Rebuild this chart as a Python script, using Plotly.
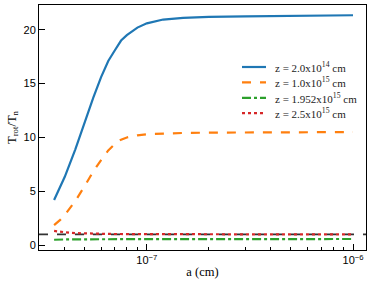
import plotly.graph_objects as go

a = [3.55e-8, 3.6e-8, 3.8e-8, 4e-8, 4.5e-8, 5e-8, 5.5e-8, 6e-8, 6.5e-8, 7e-8, 7.5e-8,
     8e-8, 9e-8, 1e-7, 1.2e-7, 1.5e-7, 2e-7, 3e-7, 5e-7, 7e-7, 1e-6]
t_z1 = [4.2, 4.45, 5.4, 6.35, 8.9, 11.5, 13.7, 15.6, 17.1, 18.1, 19.0,
        19.5, 20.2, 20.6, 20.95, 21.1, 21.2, 21.25, 21.3, 21.33, 21.35]
t_z2 = [1.86, 1.95, 2.35, 2.8, 4.1, 5.5, 6.85, 7.9, 8.8, 9.4, 9.8,
        10.0, 10.2, 10.3, 10.38, 10.42, 10.45, 10.47, 10.5, 10.5, 10.5]
t_z3 = [0.5, 0.51, 0.52, 0.53, 0.54, 0.55, 0.555, 0.56, 0.56, 0.56, 0.562,
        0.563, 0.564, 0.565, 0.566, 0.567, 0.568, 0.569, 0.57, 0.57, 0.57]
t_z4 = [1.32, 1.3, 1.25, 1.2, 1.12, 1.08, 1.06, 1.05, 1.04, 1.035, 1.03,
        1.03, 1.025, 1.02, 1.015, 1.012, 1.01, 1.005, 1.0, 1.0, 1.0]
labels = ["z = 2.0x10<sup>14</sup> cm", "z = 1.0x10<sup>15</sup> cm",
          "z = 1.952x10<sup>15</sup> cm", "z = 2.5x10<sup>15</sup> cm"]
colors = ["#1f77b4", "#ff7f0e", "#2ca02c", "#d62728"]
dashes = ["solid", "dash", "dashdot", "dot"]
series = [t_z1, t_z2, t_z3, t_z4]
ref_level = 1.0

major_x = [1e-7, 1e-6]
major_x_text = ["10<sup>−7</sup>", "10<sup>−6</sup>"]
minor_x = [4e-8, 5e-8, 6e-8, 7e-8, 8e-8, 9e-8, 2e-7, 3e-7, 4e-7, 5e-7, 6e-7, 7e-7, 8e-7, 9e-7]
y_ticks = [0, 5, 10, 15, 20]

W, H = 374, 288
ML, MR, MT, MB = 39, 8, 5, 38
PW, PH = W - ML - MR, H - MT - MB


def px_x(px):
    return (px - ML) / PW


def px_y(py):
    return 1 - (py - MT) / PH


fig = go.Figure()
for y, name, c, d in zip(series, labels, colors, dashes):
    fig.add_trace(go.Scatter(x=a, y=y, mode="lines", name=name, showlegend=False,
                             line=dict(color=c, width=2.2, dash=d)))

fig.add_shape(type="line", xref="paper", yref="y", x0=0, x1=1, y0=ref_level, y1=ref_level,
              line=dict(color="#333333", width=1.6, dash="dash"), layer="below")

# manual legend (compact row spacing as in the reference)
for i, (name, c, d) in enumerate(zip(labels, colors, dashes)):
    ry = 67 + 15.4 * i
    fig.add_shape(type="line", xref="paper", yref="paper",
                  x0=px_x(242), x1=px_x(266), y0=px_y(ry), y1=px_y(ry),
                  line=dict(color=c, width=2.2, dash=d))
    fig.add_annotation(xref="paper", yref="paper", x=px_x(273), y=px_y(ry),
                       xanchor="left", yanchor="middle", showarrow=False, text=name,
                       font=dict(family="Liberation Serif, serif", size=11, color="#222"))

fig.update_layout(
    width=W, height=H,
    margin=dict(l=ML, r=MR, t=MT, b=MB, autoexpand=False),
    paper_bgcolor="white", plot_bgcolor="white",
    font=dict(family="Liberation Sans, Arial, sans-serif", size=11, color="black"),
    showlegend=False,
    xaxis=dict(type="log", range=[-7.523, -5.937],
               tickmode="array", tickvals=major_x, ticktext=major_x_text,
               ticks="inside", ticklen=6, tickcolor="black", tickwidth=1,
               minor=dict(tickmode="array", tickvals=minor_x, ticks="inside",
                          ticklen=3.5, tickcolor="black", tickwidth=1, showgrid=False),
               showline=True, linecolor="black", linewidth=1, mirror=True,
               showgrid=False, zeroline=False,
               title=dict(text="a (cm)", font=dict(family="Liberation Serif, serif", size=12.5),
                          standoff=2)),
    yaxis=dict(range=[-0.45, 22.3], tickmode="array", tickvals=y_ticks,
               ticks="inside", ticklen=6, tickcolor="black", tickwidth=1,
               showline=True, linecolor="black", linewidth=1, mirror=True,
               showgrid=False, zeroline=False,
               title=dict(text="T<sub>rot</sub>/T<sub>n</sub>",
                          font=dict(family="Liberation Serif, serif", size=12.5),
                          standoff=4)),
)

fig.write_html("out.html", config={"displayModeBar": False},
               post_script="document.body.style.margin='0';")
